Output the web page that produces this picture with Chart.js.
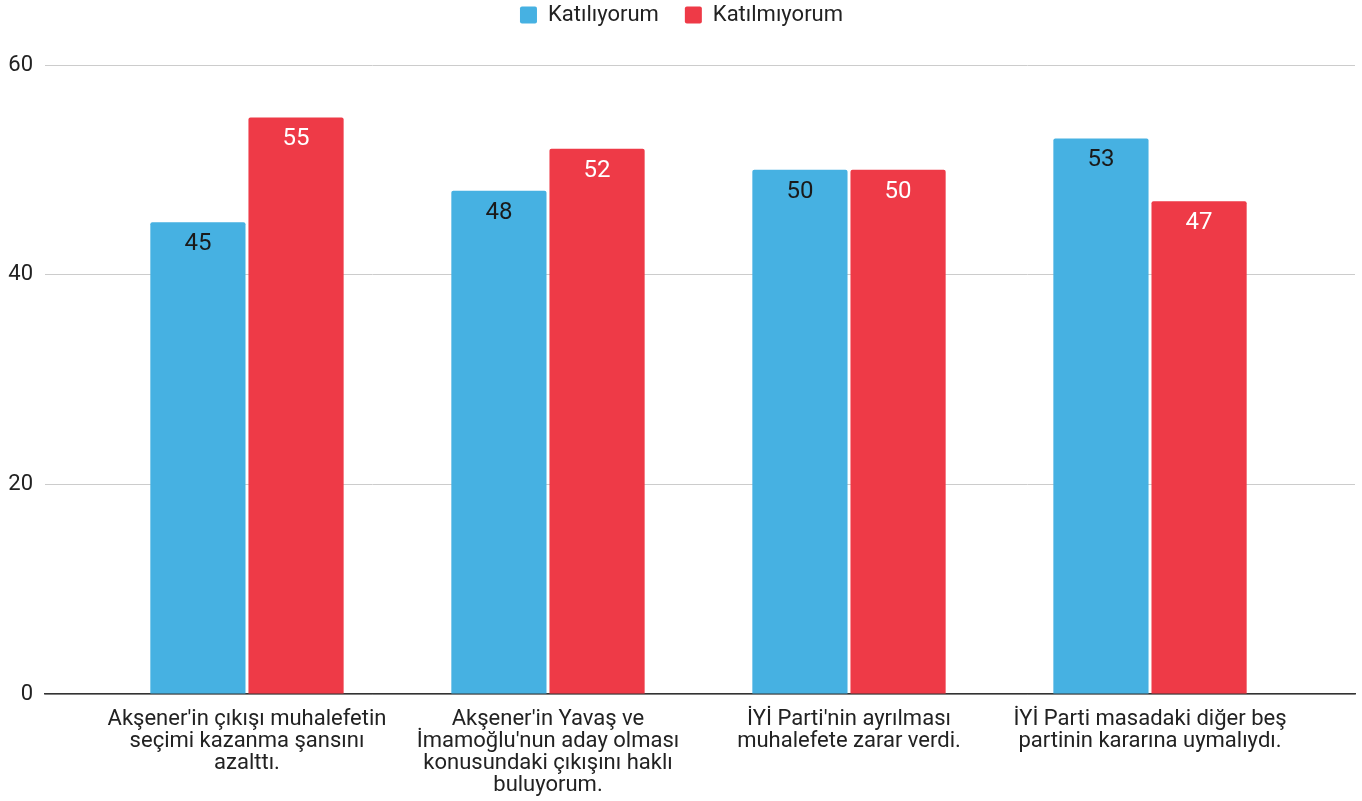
<!DOCTYPE html>
<html>
<head>
<meta charset="utf-8">
<script src="https://cdn.jsdelivr.net/npm/chart.js@4"></script>
<style>
    body { margin: 0; background: #fff; }
    #wrap { width: 1362px; height: 801px; }
</style>
</head>
<body>
<div id="wrap"><canvas id="survey-chart"></canvas></div>
<script>
const categories = [
    ["Akşener'in çıkışı muhalefetin", "seçimi kazanma şansını", "azalttı."],
    ["Akşener'in Yavaş ve", "İmamoğlu'nun aday olması", "konusundaki çıkışını haklı", "buluyorum."],
    ["İYİ Parti'nin ayrılması", "muhalefete zarar verdi."],
    ["İYİ Parti masadaki diğer beş", "partinin kararına uymalıydı."]
];
const agree = [45, 48, 50, 53];
const disagree = [55, 52, 50, 47];
const yTicks = [0, 20, 40, 60];

Chart.defaults.font.family = 'Roboto';

// values printed inside the top of each bar
const barLabels = {
    id: 'barLabels',
    afterDatasetsDraw(chart) {
        const ctx = chart.ctx;
        ctx.save();
        ctx.font = '24px Roboto';
        ctx.textAlign = 'center';
        ctx.textBaseline = 'middle';
        chart.data.datasets.forEach((ds, di) => {
            ctx.fillStyle = di === 0 ? '#1a1a1a' : '#ffffff';
            chart.getDatasetMeta(di).data.forEach((bar, i) => {
                ctx.fillText(ds.data[i].y, bar.x, bar.y + 22);
            });
        });
        ctx.restore();
    }
};

// extra room under the legend
const legendGap = {
    id: 'legendGap',
    beforeInit(chart) {
        const fit = chart.legend.fit;
        chart.legend.fit = function () {
            fit.bind(chart.legend)();
            this.height += 29;
        };
    }
};

const toPoints = (arr) => arr.map((v, i) => ({ x: i, y: v }));

var ctx = document.getElementById('survey-chart').getContext('2d');
new Chart(ctx, {
    type: 'bar',
    data: {
        datasets: [{
            label: 'Katılıyorum',
            data: toPoints(agree),
            backgroundColor: '#46b1e2',
            borderRadius: 2,
            borderSkipped: 'bottom'
        }, {
            label: 'Katılmıyorum',
            data: toPoints(disagree),
            backgroundColor: '#ee3a47',
            borderRadius: 2,
            borderSkipped: 'bottom'
        }]
    },
    options: {
        responsive: true,
        maintainAspectRatio: false,
        animation: false,
        categoryPercentage: 0.652,
        barPercentage: 0.97,
        layout: { padding: { top: -22, left: 8, right: 7, bottom: 0 } },
        plugins: {
            legend: {
                position: 'top',
                labels: {
                    font: { size: 22 },
                    color: '#222',
                    boxWidth: 17,
                    boxHeight: 17,
                    useBorderRadius: true,
                    borderRadius: 2,
                    padding: 26
                }
            },
            tooltip: { enabled: false }
        },
        scales: {
            x: {
                type: 'linear',
                offset: false,
                min: -0.671,
                max: categories.length - 1 + 0.681,
                grid: { display: false },
                border: { color: '#333', width: 1.5 },
                afterBuildTicks: (scale) => {
                    scale.ticks = categories.map((c, i) => ({ value: i }));
                },
                afterFit: (scale) => { scale.height = 107; },
                ticks: {
                    autoSkip: false,
                    maxRotation: 0,
                    font: { size: 22, lineHeight: 1.01 },
                    color: '#222',
                    padding: 6,
                    callback: (v) => categories[v]
                }
            },
            y: {
                min: 0,
                max: 60,
                afterBuildTicks: (scale) => {
                    scale.ticks = yTicks.map(v => ({ value: v }));
                },
                afterFit: (scale) => { scale.width = 37; },
                grid: { color: '#cccccc', drawTicks: false },
                border: { display: false },
                ticks: {
                    font: { size: 22 },
                    color: '#222',
                    padding: 12
                }
            }
        }
    },
    plugins: [barLabels, legendGap]
});
</script>
</body>
</html>
